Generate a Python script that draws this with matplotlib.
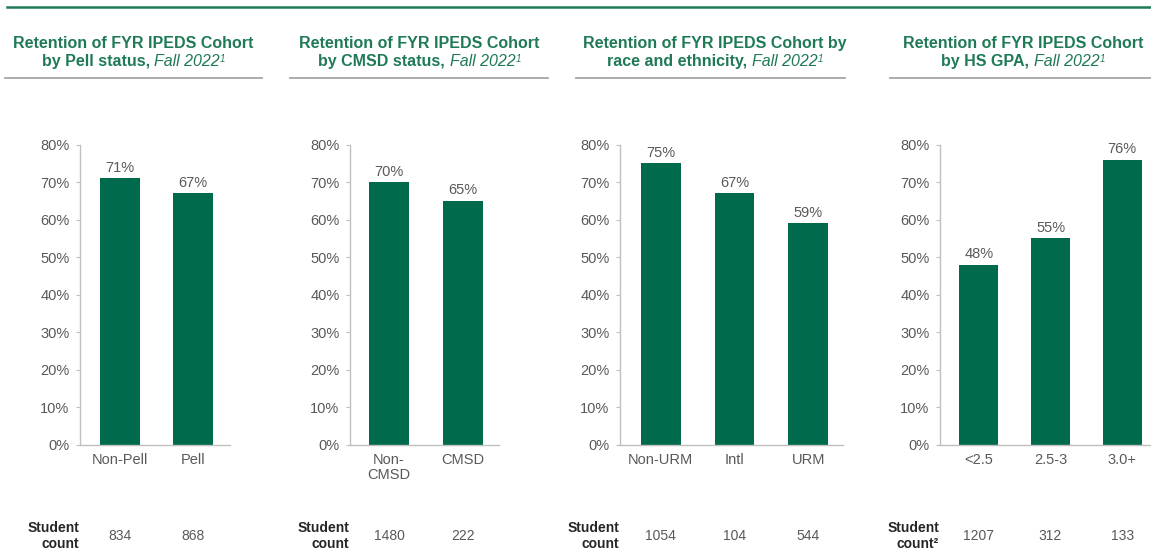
import matplotlib
matplotlib.use("Agg")
from matplotlib import pyplot as plt

plt.rcParams["font.family"] = ["Liberation Sans", "DejaVu Sans"]

# data
pell_labels = ["Non-Pell", "Pell"]
pell_rates = [71, 67]
pell_counts = [834, 868]

cmsd_labels = ["Non-\nCMSD", "CMSD"]
cmsd_rates = [70, 65]
cmsd_counts = [1480, 222]

race_labels = ["Non-URM", "Intl", "URM"]
race_rates = [75, 67, 59]
race_counts = [1054, 104, 544]

gpa_labels = ["<2.5", "2.5-3", "3.0+"]
gpa_rates = [48, 55, 76]
gpa_counts = [1207, 312, 133]

titles_line1 = [
    "Retention of FYR IPEDS Cohort",
    "Retention of FYR IPEDS Cohort",
    "Retention of FYR IPEDS Cohort by",
    "Retention of FYR IPEDS Cohort",
]
titles_line2 = ["by Pell status, ", "by CMSD status, ", "race and ethnicity, ", "by HS GPA, "]
count_headers = ["Student\ncount", "Student\ncount", "Student\ncount", "Student\ncount\u00b2"]

GREEN = "#006b4c"
TITLE_GREEN = "#1f7a55"
GRAY_TEXT = "#595959"
AXIS_GRAY = "#bfbfbf"

W, H = 1151, 552
fig = plt.figure(figsize=(W / 100, H / 100), dpi=100)

# layout in pixels: (axis left, axis right, xlim, title center, underline left, underline right)
layout = [
    (80, 230, (-0.54, 1.50), 133.5, 5, 262),
    (350, 499, (-0.53, 1.49), 419.5, 290, 548),
    (620, 843, (-0.55, 2.47), 715, 576, 845),
    (940, 1151, (-0.54, 2.40), 1023, 890, 1151),
]
AX_TOP, AX_BOTTOM = 144.5, 445
TITLE_SIZE = 11.5


def fx(px):
    return px / W


def fy(py):
    return 1 - py / H


renderer = fig.canvas.get_renderer()


def centered_pieces(xc, y_base, pieces):
    # place several differently styled texts on one centered line
    objs = []
    for txt, kw in pieces:
        kw = dict(kw)
        rise = kw.pop("rise", 0)
        t = fig.text(0, fy(y_base - rise), txt, ha="left", va="baseline", **kw)
        objs.append(t)
    widths = [t.get_window_extent(renderer).width for t in objs]
    x = xc - sum(widths) / 2
    for t, w in zip(objs, widths):
        t.set_x(fx(x))
        x += w


# top green rule
fig.add_artist(plt.Line2D([fx(7), 1], [fy(7), fy(7)], color=TITLE_GREEN, lw=1.8))

panels = [
    (pell_labels, pell_rates, pell_counts),
    (cmsd_labels, cmsd_rates, cmsd_counts),
    (race_labels, race_rates, race_counts),
    (gpa_labels, gpa_rates, gpa_counts),
]

for i, (labels, rates, counts) in enumerate(panels):
    left, right, xlim, tc, ul, ur = layout[i]
    ax = fig.add_axes([fx(left), fy(AX_BOTTOM), fx(right - left), fy(AX_TOP) - fy(AX_BOTTOM)])
    x = list(range(len(labels)))
    vals = [r / 100 for r in rates]
    ax.bar(x, vals, width=0.54, color=GREEN, zorder=2)
    for xi, v, r in zip(x, vals, rates):
        ax.annotate(f"{r}%", (xi, v), xytext=(0, 2.5), textcoords="offset points",
                    ha="center", va="bottom", fontsize=10.5, color=GRAY_TEXT,
                    annotation_clip=False)
    ax.set_xlim(*xlim)
    ax.set_ylim(0, 0.8)
    ax.set_yticks([t / 100 for t in range(0, 81, 10)])
    ax.set_yticklabels([f"{t}%" for t in range(0, 81, 10)])
    ax.set_xticks(x)
    ax.set_xticklabels(labels)
    for s in ["top", "right"]:
        ax.spines[s].set_visible(False)
    for s in ["left", "bottom"]:
        ax.spines[s].set_color(AXIS_GRAY)
        ax.spines[s].set_linewidth(1.0)
    ax.tick_params(axis="y", length=3, width=0.8, color=AXIS_GRAY, pad=4.5,
                   labelsize=10.5, labelcolor=GRAY_TEXT)
    ax.tick_params(axis="x", length=0, pad=6, labelsize=10.5, labelcolor=GRAY_TEXT)
    for lab in ax.get_xticklabels():
        lab.set_linespacing(1.1)

    # titles
    centered_pieces(tc, 48, [(titles_line1[i], dict(fontsize=TITLE_SIZE, fontweight="bold", color=TITLE_GREEN))])
    centered_pieces(tc, 66, [
        (titles_line2[i], dict(fontsize=TITLE_SIZE, fontweight="bold", color=TITLE_GREEN)),
        ("Fall 2022", dict(fontsize=TITLE_SIZE, style="italic", color=TITLE_GREEN)),
        ("1", dict(fontsize=7, style="italic", color=TITLE_GREEN, rise=4)),
    ])
    fig.add_artist(plt.Line2D([fx(ul), fx(ur)], [fy(78), fy(78)], color="#a6a6a6", lw=1.3))

    # student count row
    fig.text(fx(left - 1), fy(536), count_headers[i], ha="right", va="center",
             fontsize=10, fontweight="bold", color="#262626", linespacing=1.15)
    for xi, c in zip(x, counts):
        xp = ax.transData.transform((xi, 0))[0]
        fig.text(xp / fig.dpi / fig.get_figwidth(), fy(536), str(c), ha="center", va="center",
                 fontsize=10, color=GRAY_TEXT)

fig.savefig("out.png", dpi=100, facecolor="white")
